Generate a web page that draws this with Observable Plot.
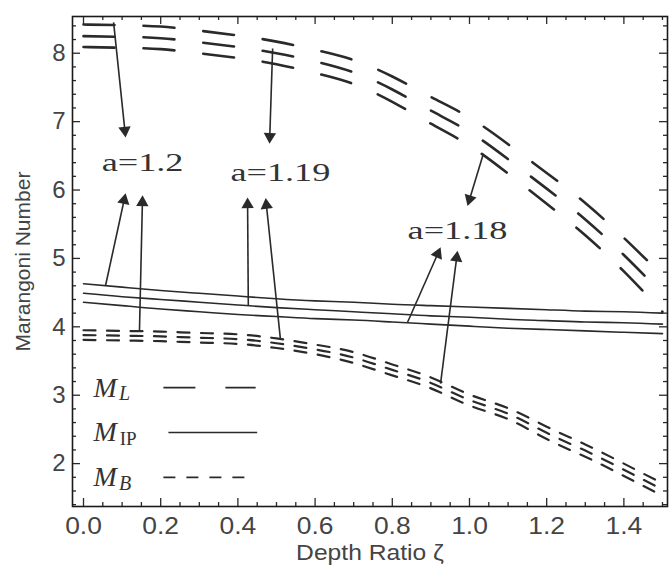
<!DOCTYPE html>
<html>
<head>
<meta charset="utf-8">
<script src="https://cdn.jsdelivr.net/npm/d3@7"></script>
<script src="https://cdn.jsdelivr.net/npm/@observablehq/plot@0.6"></script>
<style>
  body { margin: 0; background: #fff; }
  #chart svg { display: block; }
</style>
</head>
<body>
<div id="chart"></div>
<script>
// ---- data ----
const depth = [0.0, 0.1, 0.2, 0.3, 0.4, 0.5, 0.6, 0.7, 0.8, 0.9, 1.0, 1.1, 1.2, 1.3, 1.4, 1.5];

// M_L (long dashes), three curves
const mlTop = [8.42, 8.41, 8.39, 8.33, 8.26, 8.17, 8.05, 7.90, 7.66, 7.36, 7.06, 6.67, 6.25, 5.81, 5.30, 4.75];
const mlMid = [8.25, 8.24, 8.22, 8.16, 8.09, 8.00, 7.88, 7.72, 7.47, 7.16, 6.85, 6.45, 6.02, 5.57, 5.05, 4.48];
const mlBot = [8.09, 8.08, 8.06, 8.00, 7.93, 7.84, 7.71, 7.55, 7.29, 6.97, 6.65, 6.24, 5.80, 5.34, 4.81, 4.22];

// M_IP (solid), three curves
const ipTop = [4.63, 4.58, 4.53, 4.49, 4.45, 4.41, 4.38, 4.36, 4.33, 4.31, 4.29, 4.27, 4.25, 4.23, 4.22, 4.20];
const ipMid = [4.49, 4.44, 4.40, 4.36, 4.32, 4.28, 4.25, 4.22, 4.19, 4.16, 4.14, 4.11, 4.09, 4.07, 4.06, 4.04];
const ipBot = [4.36, 4.31, 4.26, 4.22, 4.18, 4.15, 4.12, 4.10, 4.07, 4.04, 4.01, 3.98, 3.96, 3.94, 3.92, 3.90];

// M_B (short dashes), three curves
const bTop = [3.95, 3.94, 3.93, 3.91, 3.89, 3.83, 3.74, 3.63, 3.45, 3.26, 3.01, 2.81, 2.54, 2.28, 2.00, 1.71];
const bMid = [3.88, 3.87, 3.86, 3.84, 3.82, 3.76, 3.67, 3.55, 3.37, 3.18, 2.93, 2.73, 2.45, 2.19, 1.91, 1.62];
const bBot = [3.81, 3.80, 3.79, 3.77, 3.75, 3.69, 3.60, 3.47, 3.29, 3.10, 2.85, 2.65, 2.36, 2.10, 1.82, 1.53];

// ticks
const xTickValues = [0.0, 0.2, 0.4, 0.6, 0.8, 1.0, 1.2, 1.4];
const yTickValues = [2, 3, 4, 5, 6, 7, 8];

// annotations (data units)
const annotText = ["a=1.2", "a=1.19", "a=1.18"];
const annotX = [0.153, 0.51, 0.969];
const annotY = [6.39, 6.25, 5.40];

const arrowX1 = [0.078, 0.490, 1.036, 0.057, 0.145, 0.427, 0.510, 0.839, 0.925];
const arrowY1 = [8.45, 8.07, 6.53, 4.60, 3.94, 4.31, 3.83, 4.06, 3.17];
const arrowX2 = [0.109, 0.482, 0.995, 0.109, 0.153, 0.425, 0.472, 0.925, 0.969];
const arrowY2 = [6.77, 6.68, 5.77, 5.95, 5.92, 5.89, 5.88, 5.16, 5.11];

// legend (data units)
const legendSym = ["L", "IP", "B"];
const legendY = [3.11, 2.455, 1.80];
const legendTextX = 0.026;
const legendSubX = [0.092, 0.094, 0.092];
const legendLineX1 = [0.207, 0.220, 0.207];
const legendLineX2 = [0.446, 0.450, 0.435];

// ---- layout ----
const W = 671, H = 571;
const mTop = 16, mRight = 4, mBottom = 65, mLeft = 72;
const xDomain = [-0.0285, 1.513];
const yDomain = [1.373, 8.537];
const innerW = W - mLeft - mRight, innerH = H - mTop - mBottom;
const kx = innerW / (xDomain[1] - xDomain[0]);
const ky = innerH / (yDomain[1] - yDomain[0]);

const ink = "#2a2a2a";
const textInk = "#444";
const serif = "'Liberation Serif', 'Times New Roman', serif";

function series(ys, key) { return depth.map((x, i) => ({x, y: ys[i], key})); }
const mlData = [...series(mlTop, "t"), ...series(mlMid, "m"), ...series(mlBot, "b")];
const ipData = [...series(ipTop, "t"), ...series(ipMid, "m"), ...series(ipBot, "b")];
const bData  = [...series(bTop, "t"), ...series(bMid, "m"), ...series(bBot, "b")];

const arrows = arrowX1.map((x1, i) => {
  const x2 = arrowX2[i], y1 = arrowY1[i], y2 = arrowY2[i];
  const ux = (x2 - x1) * kx, uy = (y2 - y1) * ky;
  const len = Math.hypot(ux, uy);
  return {
    x1, y1, x2, y2,
    cx: x2 - (ux / len) * 7 / kx,
    cy: y2 - (uy / len) * 7 / ky,
    sx: x2 - (ux / len) * 9 / kx,
    sy: y2 - (uy / len) * 9 / ky,
    rot: Math.atan2(ux, uy) * 180 / Math.PI
  };
});

const annots = annotText.map((t, i) => ({t, x: annotX[i], y: annotY[i]}));
const legend = legendSym.map((s, i) => ({s, y: legendY[i], sx: legendSubX[i], x1: legendLineX1[i], x2: legendLineX2[i]}));

const xMinor = d3.range(0, 1.5001, 0.05).map(v => +v.toFixed(2)).filter(v => !xTickValues.some(t => Math.abs(t - v) < 1e-9));
const yMinor = d3.range(1.4, 8.5001, 0.2).map(v => +v.toFixed(1)).filter(v => !yTickValues.some(t => Math.abs(t - v) < 1e-9));

const tickStyle = {stroke: ink, strokeWidth: 1.3};

const plot = Plot.plot({
  width: W, height: H,
  marginTop: mTop, marginRight: mRight, marginBottom: mBottom, marginLeft: mLeft,
  style: {fontFamily: "'Liberation Sans', Arial, sans-serif", background: "#fff"},
  x: {domain: xDomain, label: null},
  y: {domain: yDomain, label: null},
  marks: [
    // curves
    Plot.line(mlData, {x: "x", y: "y", z: "key", stroke: ink, strokeWidth: 2.6, strokeDasharray: "31,29", curve: "natural"}),
    Plot.line(ipData, {x: "x", y: "y", z: "key", stroke: ink, strokeWidth: 1.6, curve: "natural"}),
    Plot.line(bData, {x: "x", y: "y", z: "key", stroke: ink, strokeWidth: 2.2, strokeDasharray: "12,11.5", curve: "natural"}),

    // arrows
    Plot.link(arrows, {x1: "x1", y1: "y1", x2: "sx", y2: "sy", stroke: ink, strokeWidth: 1.6}),
    Plot.dot(arrows, {x: "cx", y: "cy", symbol: "triangle", r: 4.6, fill: ink, stroke: null, rotate: "rot"}),

    // annotation labels
    Plot.text(annots, {x: "x", y: "y", text: "t", fontFamily: serif, fontSize: 25, fill: "#333"}),

    // legend
    Plot.text(legend, {x: () => legendTextX, y: "y", text: () => "M", textAnchor: "start", fontFamily: serif, fontStyle: "italic", fontSize: 28, fill: "#333"}),
    Plot.text(legend.filter(d => d.s !== "IP"), {x: "sx", y: "y", text: "s", textAnchor: "start", dy: 6, fontFamily: serif, fontStyle: "italic", fontSize: 20, fill: "#333"}),
    Plot.text(legend.filter(d => d.s === "IP"), {x: "sx", y: "y", text: "s", textAnchor: "start", dy: 6, fontFamily: serif, fontSize: 19, fill: "#333"}),
    Plot.link(legend.filter(d => d.s === "L"), {x1: "x1", x2: "x2", y1: "y", y2: "y", stroke: ink, strokeWidth: 1.8, strokeDasharray: "32,30"}),
    Plot.link(legend.filter(d => d.s === "IP"), {x1: "x1", x2: "x2", y1: "y", y2: "y", stroke: ink, strokeWidth: 1.6}),
    Plot.link(legend.filter(d => d.s === "B"), {x1: "x1", x2: "x2", y1: "y", y2: "y", stroke: ink, strokeWidth: 1.8, strokeDasharray: "12,11"}),

    // inward ticks, all four sides
    Plot.tickX(xTickValues, {x: d => d, insetTop: innerH - 8, ...tickStyle}),
    Plot.tickX(xTickValues, {x: d => d, insetBottom: innerH - 8, ...tickStyle}),
    Plot.tickX(xMinor, {x: d => d, insetTop: innerH - 4, ...tickStyle}),
    Plot.tickX(xMinor, {x: d => d, insetBottom: innerH - 4, ...tickStyle}),
    Plot.tickY(yTickValues, {y: d => d, insetRight: innerW - 8, ...tickStyle}),
    Plot.tickY(yTickValues, {y: d => d, insetLeft: innerW - 8, ...tickStyle}),
    Plot.tickY(yMinor, {y: d => d, insetRight: innerW - 4, ...tickStyle}),
    Plot.tickY(yMinor, {y: d => d, insetLeft: innerW - 4, ...tickStyle}),

    // tick labels
    Plot.axisX(xTickValues, {tickSize: 0, tickPadding: 10, tickFormat: d3.format(".1f"), fontSize: 24, fill: textInk, label: null}),
    Plot.axisY(yTickValues, {tickSize: 0, tickPadding: 7, tickFormat: d3.format("d"), fontSize: 24, fill: textInk, label: null}),

    // axis titles
    Plot.text(["Depth Ratio \u03B6"], {frameAnchor: "bottom", dy: 53, fontSize: 22, fill: textInk}),
    Plot.text(["Marangoni Number"], {frameAnchor: "left", textAnchor: "middle", dx: -49, rotate: -90, fontSize: 21, fill: textInk}),

    Plot.frame({stroke: "#1a1a1a", strokeWidth: 1.6})
  ]
});

function stretch(re, sx) {
  d3.select(plot).selectAll("text")
    .filter(function() { return re.test(this.textContent); })
    .attr("transform", function() {
      const t = this.getAttribute("transform") || "";
      return (t + ` scale(${sx},1)`).trim();
    });
}
stretch(/^a=/, 1.45);
stretch(/^\d\.\d$/, 1.1);
stretch(/^Depth/, 1.12);
document.getElementById("chart").appendChild(plot);
</script>
</body>
</html>
